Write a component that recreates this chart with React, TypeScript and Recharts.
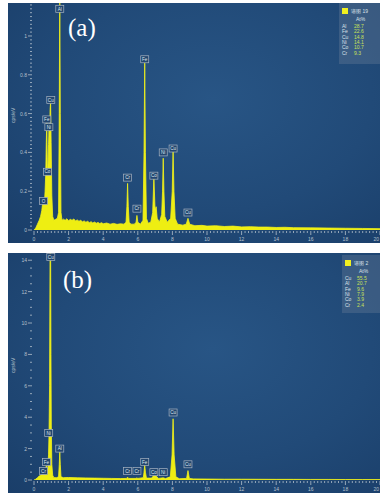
import { ComposedChart, Area, XAxis, YAxis, Scatter } from "recharts";

// spectrum (a): [keV, cps/eV]
const spectrumA: [number, number][] = [
  [0, 0], [0.1, 0.01], [0.2, 0.03], [0.3, 0.05], [0.38, 0.07], [0.45, 0.1], [0.5, 0.14],
  [0.55, 0.15], [0.6, 0.13], [0.64, 0.2], [0.68, 0.29], [0.71, 0.45], [0.74, 0.56],
  [0.77, 0.32], [0.8, 0.3], [0.84, 0.44], [0.87, 0.52], [0.9, 0.48], [0.93, 0.62],
  [0.96, 0.66], [0.99, 0.45], [1.03, 0.18], [1.08, 0.07], [1.15, 0.05], [1.25, 0.055],
  [1.35, 0.06], [1.42, 0.09], [1.46, 0.6], [1.49, 1.25], [1.52, 0.6], [1.56, 0.09],
  [1.62, 0.05], [1.7, 0.056], [1.8, 0.05], [1.9, 0.058], [2.0, 0.048], [2.1, 0.055],
  [2.2, 0.05], [2.3, 0.057], [2.4, 0.047], [2.5, 0.052], [2.6, 0.045], [2.7, 0.05],
  [2.8, 0.042], [2.9, 0.047], [3.0, 0.04], [3.1, 0.045], [3.2, 0.038], [3.3, 0.043],
  [3.4, 0.036], [3.5, 0.041], [3.6, 0.035], [3.7, 0.039], [3.8, 0.033], [3.9, 0.038],
  [4.0, 0.032], [4.2, 0.036], [4.4, 0.03], [4.6, 0.034], [4.8, 0.029], [5.0, 0.032],
  [5.2, 0.03], [5.32, 0.04], [5.37, 0.12], [5.41, 0.24], [5.45, 0.12], [5.5, 0.04],
  [5.6, 0.03], [5.8, 0.03], [5.9, 0.04], [5.95, 0.075], [6.0, 0.04], [6.15, 0.03],
  [6.3, 0.05], [6.36, 0.4], [6.4, 0.86], [6.44, 0.4], [6.5, 0.06], [6.6, 0.035],
  [6.75, 0.04], [6.86, 0.09], [6.93, 0.27], [7.0, 0.1], [7.06, 0.12], [7.12, 0.06],
  [7.25, 0.04], [7.38, 0.08], [7.43, 0.2], [7.47, 0.37], [7.51, 0.2], [7.56, 0.07],
  [7.7, 0.04], [7.9, 0.06], [7.99, 0.2], [8.04, 0.41], [8.09, 0.2], [8.16, 0.06],
  [8.3, 0.03], [8.6, 0.025], [8.8, 0.03], [8.9, 0.06], [9.0, 0.03], [9.3, 0.022],
  [9.7, 0.024], [10, 0.02], [10.5, 0.022], [11, 0.018], [11.5, 0.02], [12, 0.016],
  [12.5, 0.017], [13, 0.015], [13.5, 0.015], [14, 0.013], [14.5, 0.014], [15, 0.012],
  [16, 0.011], [17, 0.01], [18, 0.009], [19, 0.008], [20, 0.007],
];

// spectrum (b)
const spectrumB: [number, number][] = [
  [0, 0], [0.1, 0.05], [0.2, 0.15], [0.3, 0.25], [0.4, 0.3], [0.48, 0.4], [0.53, 0.55],
  [0.57, 0.5], [0.62, 0.35], [0.67, 0.6], [0.71, 0.9], [0.75, 0.7], [0.8, 0.8],
  [0.84, 1.6], [0.87, 3.0], [0.9, 6], [0.93, 15], [0.96, 15], [0.98, 8], [1.0, 3.5],
  [1.03, 1.0], [1.08, 0.3], [1.15, 0.15], [1.3, 0.15], [1.42, 0.2], [1.46, 1.0],
  [1.49, 1.8], [1.52, 1.0], [1.56, 0.2], [1.7, 0.15], [2, 0.16], [2.5, 0.14], [3, 0.13],
  [3.5, 0.12], [4, 0.11], [4.5, 0.1], [5, 0.09], [5.35, 0.1], [5.41, 0.18], [5.47, 0.1],
  [5.9, 0.1], [5.95, 0.14], [6.0, 0.1], [6.32, 0.15], [6.36, 0.5], [6.4, 0.95],
  [6.44, 0.5], [6.5, 0.12], [6.8, 0.12], [6.93, 0.3], [7.06, 0.25], [7.2, 0.1],
  [7.47, 0.14], [7.6, 0.09], [7.88, 0.2], [7.98, 1.6], [8.04, 3.9], [8.1, 1.6],
  [8.2, 0.2], [8.4, 0.08], [8.82, 0.1], [8.9, 0.6], [8.98, 0.1], [9.2, 0.07],
  [10, 0.06], [11, 0.05], [12, 0.05], [13, 0.045], [14, 0.04], [15, 0.04], [16, 0.035],
  [17, 0.035], [18, 0.03], [19, 0.03], [20, 0.03],
];

// peak markers: [element, keV, label height]
const peaksA: [string, number, number][] = [
  ["O", 0.55, 0.15], ["Co", 0.78, 0.3], ["Fe", 0.74, 0.57], ["Ni", 0.86, 0.53],
  ["Cu", 0.97, 0.67], ["Al", 1.49, 1.14], ["Cr", 5.41, 0.27], ["Cr", 5.95, 0.11],
  ["Fe", 6.4, 0.88], ["Co", 6.93, 0.28], ["Ni", 7.47, 0.4], ["Cu", 8.04, 0.42],
  ["Cu", 8.9, 0.09],
];
const peaksB: [string, number, number][] = [
  ["Cr", 0.55, 0.57], ["Fe", 0.72, 1.15], ["Ni", 0.85, 3.0], ["Cu", 0.97, 14.2],
  ["Al", 1.49, 2.0], ["Cr", 5.41, 0.57], ["Cr", 5.95, 0.57], ["Fe", 6.4, 1.15],
  ["Co", 6.93, 0.5], ["Ni", 7.47, 0.5], ["Cu", 8.04, 4.3], ["Cu", 8.9, 1.0],
];

// legend tables
const elementsA = ["Al", "Fe", "Cu", "Ni", "Co", "Cr"];
const atPctA = ["28.7", "22.6", "14.8", "14.1", "10.7", "9.3"];
const elementsB = ["Cu", "Al", "Fe", "Ni", "Co", "Cr"];
const atPctB = ["55.5", "20.7", "9.6", "7.9", "3.9", "2.4"];

const xLabels = [0, 2, 4, 6, 8, 10, 12, 14, 16, 18, 20];
const yLabelsA = [0, 0.2, 0.4, 0.6, 0.8, 1];
const yLabelsB = [0, 2, 4, 6, 8, 10, 12, 14];

const xMinor = Array.from({ length: 101 }, (_, i) => +(i * 0.2).toFixed(1));

const tickColor = "#b4c0cc";
const font = "Arial, 'Liberation Sans', sans-serif";

function near(list: number[], v: number) {
  return list.some((l) => Math.abs(l - v) < 1e-6);
}

const XTick = (props: any) => {
  const { x, y, payload } = props;
  const major = near(xLabels, payload.value);
  const last = payload.value >= 20;
  return (
    <g>
      <line x1={x} x2={x} y1={y + 1} y2={y + (major ? 5 : 3)} stroke={tickColor} strokeWidth={0.8} />
      {major && (
        <text
          x={last ? x - 1 : x}
          y={y + 11}
          fill={tickColor}
          fontSize={5}
          textAnchor={last ? "end" : "middle"}
          fontFamily={font}
        >
          {payload.value}
        </text>
      )}
    </g>
  );
};

const makeYTick = (labels: number[]) => (props: any) => {
  const { x, y, payload } = props;
  const major = near(labels, payload.value);
  return (
    <g>
      <line x1={x - (major ? 6 : 4)} x2={x - 2} y1={y} y2={y} stroke={tickColor} strokeWidth={0.8} />
      {major && (
        <text x={x - 7} y={y + 2} fill={tickColor} fontSize={5} textAnchor="end" fontFamily={font}>
          {payload.value}
        </text>
      )}
    </g>
  );
};

const PeakBox = (props: any) => {
  const { cx, cy, payload } = props;
  return (
    <g>
      <rect x={cx - 4} y={cy - 3.5} width={8} height={7} fill="#23466f" stroke="#a8b4c2" strokeWidth={0.7} />
      <text x={cx} y={cy + 1.7} fill="#dfe6ee" fontSize={4.6} textAnchor="middle" fontFamily={font}>
        {payload.t}
      </text>
    </g>
  );
};

type PanelProps = {
  top: number;
  tag: string;
  tagPos: [number, number];
  spectrum: [number, number][];
  peaks: [string, number, number][];
  yMax: number;
  yLabels: number[];
  yMinor: number[];
  title: string;
  elements: string[];
  values: string[];
  legendBox: [number, number, number, number];
};

function Panel(p: PanelProps) {
  const data = p.spectrum.map(([e, v]) => ({ e, v }));
  const marks = p.peaks.map(([t, e, v]) => ({ t, e, v }));
  const [lx, ly, lw, lh] = p.legendBox;
  return (
    <div
      style={{
        position: "absolute",
        left: 8,
        top: p.top,
        width: 372,
        height: 240,
        background:
          "radial-gradient(ellipse at 55% 40%, #285585 0%, #214a78 55%, #1a3e69 100%)",
        overflow: "hidden",
      }}
    >
      <ComposedChart width={372} height={240} data={data} margin={{ top: 0, right: 0, bottom: 0, left: 0 }}>
        <XAxis
          dataKey="e"
          type="number"
          domain={[0, 20]}
          ticks={xMinor}
          interval={0}
          height={13}
          axisLine={false}
          tickLine={false}
          tickSize={0}
          tickMargin={0}
          tick={XTick}
        />
        <YAxis
          type="number"
          domain={[0, p.yMax]}
          allowDataOverflow
          ticks={p.yMinor}
          interval={0}
          width={26}
          axisLine={false}
          tickLine={false}
          tickSize={0}
          tickMargin={0}
          tick={makeYTick(p.yLabels)}
        />
        <Area
          type="linear"
          dataKey="v"
          stroke="#f2f21a"
          strokeWidth={0.8}
          fill="#eeee12"
          fillOpacity={1}
          isAnimationActive={false}
          dot={false}
          activeDot={false}
        />
        <Scatter data={marks} dataKey="v" shape={PeakBox} isAnimationActive={false} />
      </ComposedChart>
      <div
        style={{
          position: "absolute",
          left: p.tagPos[0],
          top: p.tagPos[1],
          color: "#ffffff",
          fontFamily: "'Liberation Serif', 'Times New Roman', serif",
          fontSize: 25,
          lineHeight: "25px",
        }}
      >
        {p.tag}
      </div>
      <div
        style={{
          position: "absolute",
          left: 0,
          top: 112,
          width: 10,
          transform: "rotate(-90deg)",
          color: tickColor,
          fontFamily: font,
          fontSize: 5,
          textAlign: "center",
        }}
      >
        cps/eV
      </div>
      <div
        style={{
          position: "absolute",
          left: lx,
          top: ly,
          width: lw,
          height: lh,
          background: "rgba(110,130,155,0.35)",
          fontFamily: font,
          fontSize: 5,
          lineHeight: "5px",
          color: "#d8e0e8",
        }}
      >
        <div style={{ position: "absolute", left: 3, top: 5, width: 6, height: 6, background: "#f0f020" }} />
        <div style={{ position: "absolute", left: 12, top: 6 }}>{p.title}</div>
        <div style={{ position: "absolute", left: 17, top: 14 }}>At%</div>
        {p.elements.map((el, i) => (
          <div key={i}>
            <div style={{ position: "absolute", left: 3, top: 21 + i * 5.3 }}>{el}</div>
            <div style={{ position: "absolute", left: 15, top: 21 + i * 5.3, color: "#c8e05a" }}>
              {p.values[i]}
            </div>
          </div>
        ))}
      </div>
    </div>
  );
}

export default function App() {
  return (
    <div style={{ position: "absolute", left: 0, top: 0, width: 380, height: 493, background: "#ffffff" }}>
      <Panel
        top={3}
        tag="(a)"
        tagPos={[60, 12]}
        spectrum={spectrumA}
        peaks={peaksA}
        yMax={1.17}
        yLabels={yLabelsA}
        yMinor={Array.from({ length: 59 }, (_, i) => +(i * 0.02).toFixed(2))}
        title="谱图 19"
        elements={elementsA}
        values={atPctA}
        legendBox={[331, 0, 41, 61]}
      />
      <Panel
        top={253}
        tag="(b)"
        tagPos={[55, 14]}
        spectrum={spectrumB}
        peaks={peaksB}
        yMax={14.46}
        yLabels={yLabelsB}
        yMinor={Array.from({ length: 29 }, (_, i) => i * 0.5)}
        title="谱图 2"
        elements={elementsB}
        values={atPctB}
        legendBox={[334, 2, 38, 58]}
      />
    </div>
  );
}
